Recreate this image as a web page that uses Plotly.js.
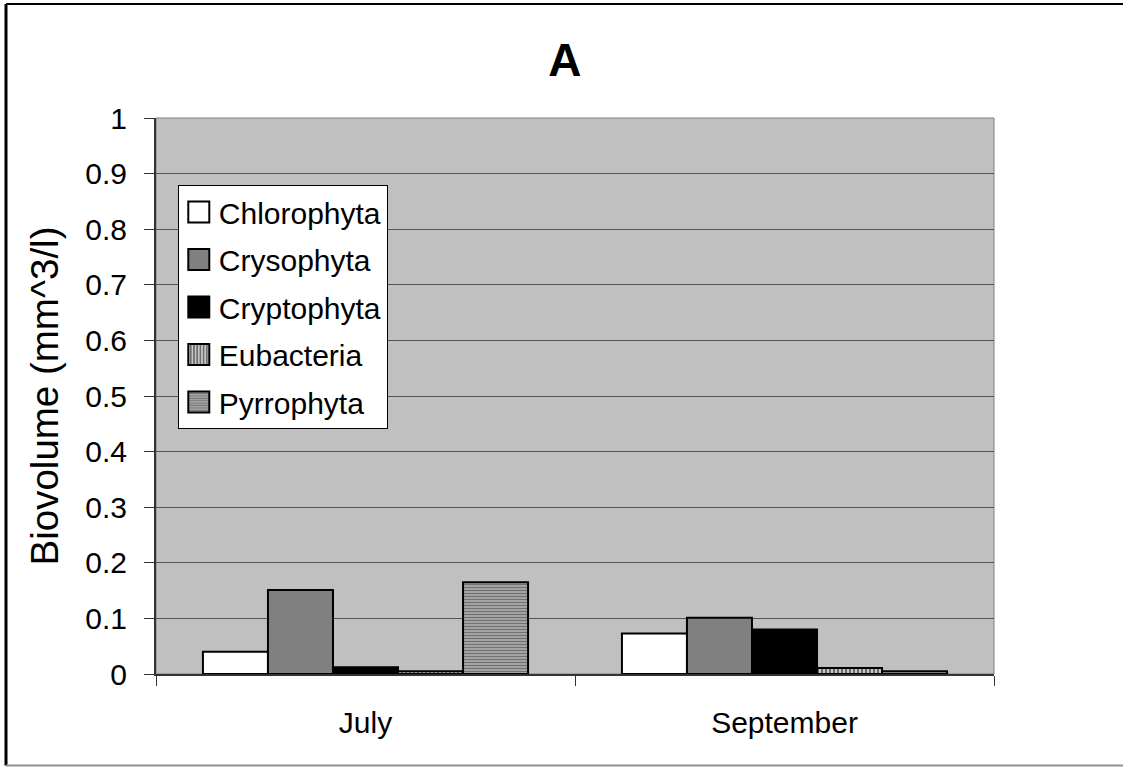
<!DOCTYPE html>
<html>
<head>
<meta charset="utf-8">
<script src="https://cdn.plot.ly/plotly-3.0.1.min.js"></script>
<style>
html, body { margin: 0; padding: 0; background: #fff; }
#chart { width: 1123px; height: 767px; }
.legend .legendpoints path { d: path("M10.5,10.5H-10.5V-10.5H10.5Z"); }
</style>
</head>
<body>
<div id="chart"></div>
<script>
// ---- data ----
var months = ["July", "September"];
var seriesNames = ["Chlorophyta", "Crysophyta", "Cryptophyta", "Eubacteria", "Pyrrophyta"];
var chlorophyta = [0.040, 0.073];
var crysophyta  = [0.151, 0.101];
var cryptophyta = [0.012, 0.080];
var eubacteria  = [0.005, 0.011];
var pyrrophyta  = [0.165, 0.005];
var yTickVals = [0, 0.1, 0.2, 0.3, 0.4, 0.5, 0.6, 0.7, 0.8, 0.9, 1];
var yTickText = ["0", "0.1", "0.2", "0.3", "0.4", "0.5", "0.6", "0.7", "0.8", "0.9", "1"];

var FONT = "Arial, 'Liberation Sans', sans-serif";
var values = [chlorophyta, crysophyta, cryptophyta, eubacteria, pyrrophyta];
var markers = [
  {color: "#ffffff"},
  {color: "#808080"},
  {color: "#000000"},
  {color: "#c0c0c0", pattern: {shape: "|", fgcolor: "#555555", bgcolor: "#c8c8c8", size: 4, solidity: 0.4}},
  {color: "#a0a0a0", pattern: {shape: "-", fgcolor: "#707070", bgcolor: "#b4b4b4", size: 3, solidity: 0.5}}
];

var traces = seriesNames.map(function (name, i) {
  var m = markers[i];
  m.line = {color: "#000000", width: 2};
  return {
    type: "bar",
    name: name,
    x: months,
    y: values[i],
    marker: m,
    legendgroup: "g" + i,
    hoverinfo: "x+y+name"
  };
});

// paper-coordinate helpers for the outer frame (plot area: x 156..994, y 118..674)
var frameLeft = -0.179, frameRight = 1.2, frameTop = 1.205, frameBottom = -0.1646;

var layout = {
  width: 1123,
  height: 767,
  margin: {l: 156, r: 129, t: 118, b: 93, pad: 0},
  paper_bgcolor: "#ffffff",
  plot_bgcolor: "#c0c0c0",
  font: {family: FONT, size: 30, color: "#000000"},
  title: {
    text: "<b>A</b>",
    font: {family: FONT, size: 46, color: "#000000"},
    xref: "container", x: 0.503, xanchor: "center",
    yref: "container", y: 0.922, yanchor: "middle"
  },
  barmode: "group",
  bargap: 0.224,
  bargroupgap: 0,
  showlegend: true,
  legend: {
    x: 0.026, xanchor: "left",
    y: 0.8795, yanchor: "top",
    bgcolor: "#ffffff",
    bordercolor: "#000000",
    borderwidth: 1,
    font: {family: FONT, size: 30, color: "#000000"},
    tracegroupgap: 5.5,
    traceorder: "grouped",
    entrywidth: 168,
    entrywidthmode: "pixels"
  },
  xaxis: {
    type: "category",
    tickson: "boundaries",
    ticks: "outside",
    ticklen: 10,
    tickcolor: "#333333",
    tickwidth: 1,
    ticklabelstandoff: 21,
    showline: true,
    linecolor: "#333333",
    linewidth: 2,
    showgrid: false,
    zeroline: false,
    tickfont: {family: FONT, size: 30, color: "#000000"},
    fixedrange: true
  },
  yaxis: {
    range: [0, 1],
    tickvals: yTickVals,
    ticktext: yTickText,
    ticks: "outside",
    ticklen: 10,
    tickcolor: "#333333",
    tickwidth: 1,
    ticklabelstandoff: 11,
    showline: true,
    linecolor: "#333333",
    linewidth: 2,
    showgrid: true,
    gridcolor: "#555555",
    gridwidth: 1,
    zeroline: false,
    tickfont: {family: FONT, size: 30, color: "#000000"},
    title: {text: "Biovolume (mm^3/l)", font: {family: FONT, size: 38.5, color: "#000000"}, standoff: 15},
    automargin: false,
    fixedrange: true
  },
  shapes: [
    {type: "rect", xref: "paper", yref: "paper", x0: 0, x1: 1, y0: 0, y1: 1,
     line: {color: "#808080", width: 1}, fillcolor: "rgba(0,0,0,0)", layer: "below"},
    {type: "line", xref: "paper", yref: "paper", x0: frameLeft, x1: frameRight, y0: frameTop, y1: frameTop,
     line: {color: "#000000", width: 2}},
    {type: "line", xref: "paper", yref: "paper", x0: frameLeft, x1: frameLeft, y0: frameTop, y1: frameBottom,
     line: {color: "#000000", width: 3}},
    {type: "line", xref: "paper", yref: "paper", x0: frameLeft, x1: frameRight, y0: frameBottom, y1: frameBottom,
     line: {color: "#909090", width: 2}}
  ]
};

Plotly.newPlot("chart", traces, layout, {displayModeBar: false, staticPlot: true});
</script>
</body>
</html>
